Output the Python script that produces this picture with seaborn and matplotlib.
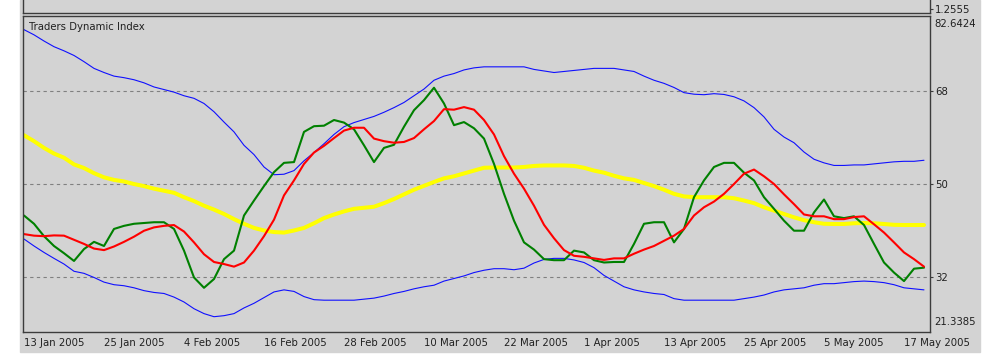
import matplotlib
matplotlib.use("Agg")
import matplotlib.pyplot as plt
from matplotlib.patches import Rectangle
import numpy as np
import pandas as pd
import seaborn as sns

# Traders Dynamic Index, one value per daily bar (13 Jan 2005 .. 19 May 2005)
upper_band = [79.9, 78.9, 77.7, 76.6, 75.8, 74.9, 73.7, 72.4, 71.6, 70.9, 70.6, 70.2, 69.6, 68.8, 68.3, 67.8, 67.1, 66.6, 65.6, 64.0, 62.0, 60.1, 57.5,
              55.7, 53.3, 51.8, 51.9, 52.6, 54.5, 56.1, 57.8, 59.6, 61.1, 61.9, 62.5, 63.1, 63.9, 64.8, 65.8, 67.1, 68.4, 70.1, 70.9, 71.4, 72.1, 72.5,
              72.7, 72.7, 72.7, 72.7, 72.7, 72.2, 71.9, 71.6, 71.8, 72.0, 72.2, 72.4, 72.4, 72.4, 72.1, 71.8, 70.9, 70.1, 69.5, 68.7, 67.7, 67.4, 67.3,
              67.5, 67.35, 66.9, 66.1, 64.8, 63.0, 60.6, 59.1, 58.0, 56.2, 54.8, 54.1, 53.6, 53.6, 53.7, 53.7, 53.9, 54.1, 54.3, 54.4, 54.4, 54.6]
lower_band = [39.35, 38.0, 36.75, 35.6, 34.5, 33.1, 32.7, 31.9, 31.0, 30.5, 30.3, 29.9, 29.35, 29.0, 28.8, 28.1, 27.15, 25.85, 24.9, 24.3, 24.5, 24.9, 26.0,
              26.9, 28.0, 29.1, 29.5, 29.2, 28.2, 27.6, 27.5, 27.5, 27.5, 27.5, 27.7, 27.9, 28.3, 28.8, 29.2, 29.7, 30.1, 30.4, 31.2, 31.7, 32.2, 32.85,
              33.3, 33.6, 33.6, 33.4, 33.7, 34.7, 35.4, 35.6, 35.6, 35.3, 34.8, 33.8, 32.3, 31.2, 30.1, 29.5, 29.1, 28.8, 28.6, 27.8, 27.5, 27.5, 27.5,
              27.5, 27.5, 27.5, 27.8, 28.1, 28.5, 29.1, 29.5, 29.7, 29.9, 30.4, 30.7, 30.7, 30.9, 31.1, 31.2, 31.1, 30.9, 30.5, 29.9, 29.7, 29.5]
market_base = [59.45, 58.3, 57.0, 55.9, 55.1, 53.8, 53.1, 52.1, 51.3, 50.8, 50.5, 50.0, 49.6, 49.1, 48.7, 48.3, 47.45, 46.7, 45.8, 45.05, 44.2, 43.2, 42.3,
               41.5, 41.0, 40.7, 40.6, 41.0, 41.5, 42.4, 43.4, 44.1, 44.7, 45.2, 45.4, 45.6, 46.3, 47.1, 48.0, 48.9, 49.65, 50.4, 51.1, 51.5, 52.05, 52.6,
               53.15, 53.2, 53.2, 53.2, 53.3, 53.5, 53.6, 53.6, 53.6, 53.5, 53.15, 52.6, 52.2, 51.6, 51.1, 50.8, 50.2, 49.6, 48.9, 48.1, 47.6, 47.45, 47.45,
               47.45, 47.45, 47.25, 46.8, 46.3, 45.5, 44.85, 44.2, 43.55, 43.0, 42.6, 42.3, 42.26, 42.26, 42.4, 42.45, 42.4, 42.26, 42.1, 42.06, 42.06, 42.06]
rsi_line = [43.9, 42.3, 39.9, 38.0, 36.6, 35.1, 37.4, 38.8, 38.0, 41.3, 41.9, 42.3, 42.45, 42.6, 42.6, 41.3, 37.1, 31.9, 29.9, 31.6, 35.45, 37.1, 43.9,
            46.8, 49.6, 52.3, 54.1, 54.25, 60.1, 61.2, 61.3, 62.4, 61.9, 60.6, 57.5, 54.25, 57.0, 57.6, 61.1, 64.3, 66.25, 68.65, 65.6, 61.4, 62.0, 60.8,
            58.8, 53.9, 48.1, 42.9, 38.7, 37.3, 35.45, 35.25, 35.25, 37.1, 36.75, 35.25, 34.8, 34.9, 34.9, 38.4, 42.3, 42.6, 42.6, 38.7, 41.3, 47.45, 50.7,
            53.3, 54.1, 54.1, 52.2, 50.7, 47.45, 45.2, 42.9, 40.96, 40.96, 44.5, 47.0, 43.75, 43.4, 43.75, 42.06, 38.4, 34.8, 32.85, 31.2, 33.6, 33.8]
signal_line = [40.3, 40.0, 39.9, 40.05, 40.0, 39.2, 38.4, 37.5, 37.2, 37.9, 38.8, 39.8, 40.95, 41.6, 41.9, 42.05, 40.8, 38.7, 36.4, 34.9, 34.5, 34.0, 34.8,
               37.1, 39.9, 43.1, 47.8, 50.7, 53.9, 56.1, 57.4, 58.9, 60.35, 60.9, 60.9, 58.8, 58.3, 58.0, 58.15, 58.9, 60.6, 62.2, 64.5, 64.4, 64.9, 64.4,
               62.4, 59.6, 55.4, 52.0, 49.1, 45.8, 42.1, 39.5, 37.2, 36.1, 35.9, 35.6, 35.3, 35.6, 35.6, 36.5, 37.3, 38.0, 39.0, 40.0, 41.3, 43.9, 45.5,
               46.6, 48.1, 50.0, 52.0, 52.8, 51.5, 50.0, 48.0, 46.1, 44.1, 43.75, 43.75, 43.2, 43.2, 43.6, 43.75, 42.2, 40.6, 38.7, 36.75, 35.45, 34.0]

tick_bars = [0, 8, 16, 24, 32, 40, 48, 56, 64, 72, 80, 88]
tick_labels = ["13 Jan 2005", "25 Jan 2005", "4 Feb 2005", "16 Feb 2005", "28 Feb 2005", "10 Mar 2005",
               "22 Mar 2005", "1 Apr 2005", "13 Apr 2005", "25 Apr 2005", "5 May 2005", "17 May 2005"]
levels = [32, 50, 68]
y_min, y_max = 21.3385, 82.6424

df = pd.DataFrame({
    "bar": np.arange(len(rsi_line)),
    "upper": upper_band,
    "lower": lower_band,
    "base": market_base,
    "rsi": rsi_line,
    "signal": signal_line,
})

sns.set_theme(style="white")
plt.rcParams["font.family"] = ["DejaVu Sans"]
plt.rcParams["font.size"] = 7.3

W, H = 999, 355
bg = "#d3d3d3"
frame = "#3c3c3c"
txt = "#202020"

fig = plt.figure(figsize=(W / 100, H / 100), dpi=100)
fig.patch.set_facecolor("white")
fig.add_artist(Rectangle((20 / W, 3 / H), 960 / W, 352 / H, transform=fig.transFigure,
                         color=bg, zorder=-10))


def px_box(x0, y0, x1, y1):
    return [x0 / W, 1 - y1 / H, (x1 - x0) / W, (y1 - y0) / H]


# sliver of the price window above
ax_top = fig.add_axes(px_box(22.5, -5, 930, 13))
ax_top.set_facecolor(bg)
ax_top.set_xlim(-0.15, 90.6)
ax_top.set_ylim(0, 18)
ax_top.set_xticks([])
ax_top.yaxis.tick_right()
ax_top.set_yticks([4])
ax_top.set_yticklabels(["1.2555"])
ax_top.tick_params(axis="y", direction="out", length=2.2, width=0.8, pad=1.5,
                   colors=frame, labelcolor=txt, labelsize=7.3)
for s in ax_top.spines.values():
    s.set_color(frame)
    s.set_linewidth(1)

# indicator window
ax = fig.add_axes(px_box(22.5, 15.5, 930, 332))
ax.set_facecolor(bg)

for lvl in levels:
    ax.axhline(lvl, color="#808080", lw=0.8, ls=(0, (3, 3)), zorder=1)

sns.lineplot(data=df, x="bar", y="upper", color="#1010ff", lw=0.8, ax=ax)
sns.lineplot(data=df, x="bar", y="lower", color="#1010ff", lw=0.8, ax=ax)
sns.lineplot(data=df, x="bar", y="base", color="#ffff00", lw=2.9, ax=ax)
sns.lineplot(data=df, x="bar", y="rsi", color="#008000", lw=1.5, ax=ax)
sns.lineplot(data=df, x="bar", y="signal", color="#ff0000", lw=1.5, ax=ax)

ax.set_xlim(-0.15, 90.6)
ax.set_ylim(y_min, y_max)
ax.set_xlabel("")
ax.set_ylabel("")

ax.yaxis.tick_right()
ax.set_yticks(levels)
ax.set_yticklabels([str(v) for v in levels])
ax.tick_params(axis="y", direction="out", length=2.2, width=0.8, pad=1.5,
               colors=frame, labelcolor=txt, labelsize=7.3)

ax.set_xticks(tick_bars)
ax.set_xticklabels(tick_labels, ha="left")
ax.tick_params(axis="x", direction="out", length=3, width=0.8, pad=1.5,
               colors=frame, labelcolor=txt, labelsize=7.3)

for s in ax.spines.values():
    s.set_color(frame)
    s.set_linewidth(1)

ax.annotate(f"{y_max:.4f}", xy=(1, 1), xycoords="axes fraction", xytext=(3, -2.5),
            textcoords="offset points", ha="left", va="top", color=txt, fontsize=7.3)
ax.annotate(f"{y_min:.4f}", xy=(1, 0), xycoords="axes fraction", xytext=(3, 3.5),
            textcoords="offset points", ha="left", va="bottom", color=txt, fontsize=7.3)

fig.text(29 / W, 1 - 27 / H, "Traders Dynamic Index", ha="left", va="center",
         color=txt, fontsize=7.3)

fig.savefig("out.png", dpi=100, facecolor=fig.get_facecolor())
